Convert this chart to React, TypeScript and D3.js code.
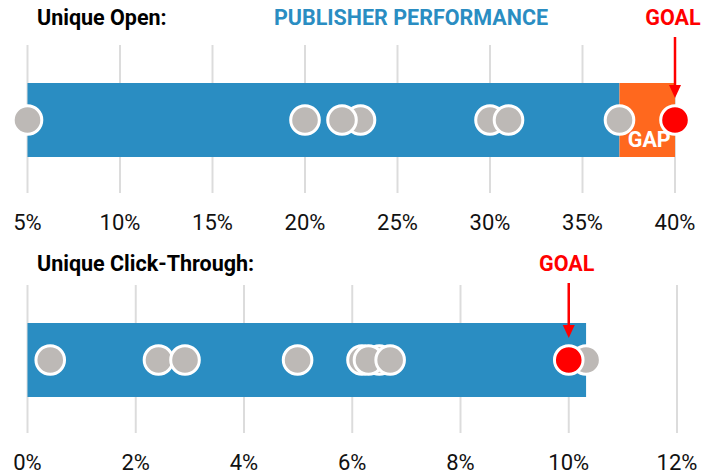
import React from 'react';
import * as d3 from 'd3';

// ---- data ----
const openTicks = [5, 10, 15, 20, 25, 30, 35, 40];
const openPublishers = [5, 20, 23, 22, 30, 31, 37];
const openBarValue = 37;
const openGoal = 40;

const ctrTicks = [0, 2, 4, 6, 8, 10, 12];
const ctrPublishers = [0.42, 2.42, 2.91, 4.99, 6.5, 6.18, 6.3, 6.7, 10.32];
const ctrBarValue = 10.32;
const ctrGoal = 10;

const titleText = 'PUBLISHER PERFORMANCE';
const openLabel = 'Unique Open:';
const ctrLabel = 'Unique Click-Through:';
const goalLabel = 'GOAL';
const gapLabel = 'GAP';

// ---- style ----
const W = 702;
const H = 474;
const BLUE = '#2A8DC2';
const ORANGE = '#FF681E';
const RED = '#FF0000';
const GREY = '#BDB9B6';
const GRID = '#DCDCDC';
const FONT = 'Roboto, "Liberation Sans", Arial, sans-serif';

type PanelProps = {
  ticks: number[];
  domain: [number, number];
  range: [number, number];
  values: number[];
  barValue: number;
  goal: number;
  top: number; // top of gridlines
  titleY: number;
  label: string;
  showGap: boolean;
};

function Panel({ ticks, domain, range, values, barValue, goal, top, titleY, label, showGap }: PanelProps) {
  const x = d3.scaleLinear().domain(domain).range(range);
  const gridTop = top;
  const gridBottom = top + 148;
  const barTop = top + 38;
  const barH = 74;
  const cy = barTop + barH / 2;
  const r = 14.3;
  const goalX = x(goal);
  const arrowTop = titleY + 12;
  const arrowTip = cy - 22;
  const labelY = gridBottom + 37;
  return (
    <g>
      <text x={37} y={titleY} fontFamily={FONT} fontWeight={700} fontSize={21.5} fill="#000">
        {label}
      </text>
      {ticks.map((t) => (
        <line key={'g' + t} x1={x(t)} x2={x(t)} y1={gridTop} y2={gridBottom} stroke={GRID} strokeWidth={2} />
      ))}
      <rect x={x(domain[0])} y={barTop} width={x(barValue) - x(domain[0])} height={barH} fill={BLUE} />
      {showGap && (
        <rect x={x(barValue)} y={barTop} width={x(goal) - x(barValue)} height={barH} fill={ORANGE} />
      )}
      {showGap && (
        <text
          x={(x(barValue) + x(goal)) / 2 + 2}
          y={barTop + 64}
          textAnchor="middle"
          fontFamily={FONT}
          fontWeight={700}
          fontSize={21.5}
          fill="#fff"
        >
          {gapLabel}
        </text>
      )}
      {values.map((v, i) => (
        <circle key={'c' + i} cx={x(v)} cy={cy} r={r} fill={GREY} stroke="#fff" strokeWidth={3} />
      ))}
      <circle cx={goalX} cy={cy} r={r} fill={RED} stroke="#fff" strokeWidth={3} />
      <text
        x={goalX - 2}
        y={titleY}
        textAnchor="middle"
        fontFamily={FONT}
        fontWeight={700}
        fontSize={21.5}
        fill={RED}
      >
        {goalLabel}
      </text>
      <line x1={goalX} x2={goalX} y1={arrowTop} y2={arrowTip - 10} stroke={RED} strokeWidth={2.5} />
      <path
        d={`M${goalX - 6},${arrowTip - 13} L${goalX + 6},${arrowTip - 13} L${goalX},${arrowTip} Z`}
        fill={RED}
      />
      {ticks.map((t) => (
        <text
          key={'t' + t}
          x={x(t)}
          y={labelY}
          textAnchor="middle"
          fontFamily={FONT}
          fontWeight={400}
          fontSize={22}
          fill="#111"
        >
          {t + '%'}
        </text>
      ))}
    </g>
  );
}

export default function App() {
  return (
    <svg
      width={W}
      height={H}
      viewBox={`0 0 ${W} ${H}`}
      style={{ position: 'absolute', left: 0, top: 0, background: '#fff' }}
    >
      <rect x={0} y={0} width={W} height={H} fill="#fff" />
      <text
        x={411}
        y={25}
        textAnchor="middle"
        fontFamily={FONT}
        fontWeight={700}
        fontSize={21.5}
        fill={BLUE}
      >
        {titleText}
      </text>
      <Panel
        ticks={openTicks}
        domain={[5, 40]}
        range={[27.5, 675]}
        values={openPublishers}
        barValue={openBarValue}
        goal={openGoal}
        top={45}
        titleY={25}
        label={openLabel}
        showGap={true}
      />
      <Panel
        ticks={ctrTicks}
        domain={[0, 12]}
        range={[27.5, 677]}
        values={ctrPublishers}
        barValue={ctrBarValue}
        goal={ctrGoal}
        top={285}
        titleY={271}
        label={ctrLabel}
        showGap={false}
      />
    </svg>
  );
}
